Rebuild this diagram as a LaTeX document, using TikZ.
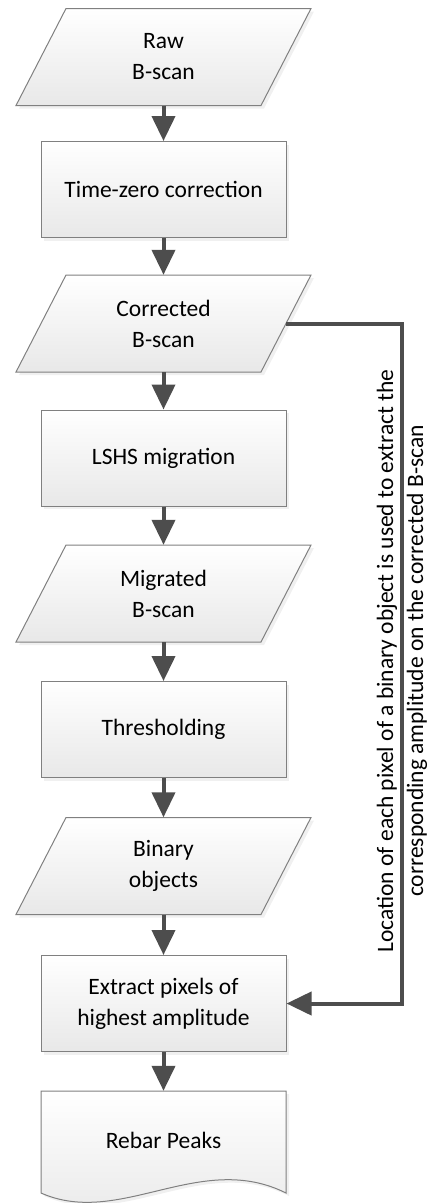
\documentclass[tikz,border=0pt]{standalone}
\usepackage{fontspec}
\setmainfont{Carlito}
\usetikzlibrary{arrows.meta,shadows}
\definecolor{edgegray}{HTML}{808080}
\definecolor{arrowgray}{HTML}{4D4D4D}
\tikzset{
  box/.style={draw=edgegray,line width=1pt,top color=white,bottom color=black!9,drop shadow={opacity=0.12,shadow xshift=3pt,shadow yshift=-3pt},align=center,inner sep=0pt},
  procbox/.style={box,rectangle,minimum width=245pt,minimum height=96pt},
  iotext/.style={rectangle,align=center,inner sep=0pt,minimum width=245pt,minimum height=97pt},
  flow/.style={color=arrowgray,line width=4pt,-{Triangle[width=23pt,length=25pt]}}
}
\begin{document}
\begin{tikzpicture}[x=1pt,y=-1pt,font=\fontsize{23.5}{31}\selectfont]
\useasboundingbox (0,0) rectangle (428,1203);
\foreach \n/\y/\t in {raw/57/{Raw\\B-scan},corr/323.5/{Corrected\\B-scan},migr/593.5/{Migrated\\B-scan},binobj/866/{Binary\\objects}} {
  \path[box] (16,\y+48.5) -- (261,\y+48.5) -- (311,\y-48.5) -- (66,\y-48.5) -- cycle;
  \node[iotext] (\n) at (163.5,\y) {\t};
}
\node[procbox] (tzero) at (163.5,189.5) {Time-zero correction};
\node[procbox] (lshs) at (163.5,458) {LSHS migration};
\node[procbox] (thresh) at (163.5,729.5) {Thresholding};
\node[procbox] (extract) at (163.5,1003.5) {Extract pixels of\\highest amplitude};
\path[box] (41,1091) -- (286,1091) -- (286,1193) .. controls (200,1150) and (120,1228) .. (41,1193) -- cycle;
\node[minimum width=245pt,minimum height=102pt,inner sep=0pt] (peaks) at (163.5,1140) {Rebar Peaks};
\draw[flow] (raw) -- (tzero); \draw[flow] (tzero) -- (corr); \draw[flow] (corr) -- (lshs); \draw[flow] (lshs) -- (migr);
\draw[flow] (migr) -- (thresh); \draw[flow] (thresh) -- (binobj); \draw[flow] (binobj) -- (extract); \draw[flow] (extract) -- ([yshift=-2pt]peaks.north);
\coordinate (fbturn) at (402,663);
\draw[flow,line join=miter] (corr.east) -| (fbturn) |- (extract.east);
\node[rotate=90,align=center,font=\fontsize{23.5}{30}\selectfont,xshift=2pt] (fbnote) at (fbturn) {Location of each pixel of a binary object is used to extract the\\corresponding amplitude on the corrected B-scan};
\end{tikzpicture}
\end{document}
